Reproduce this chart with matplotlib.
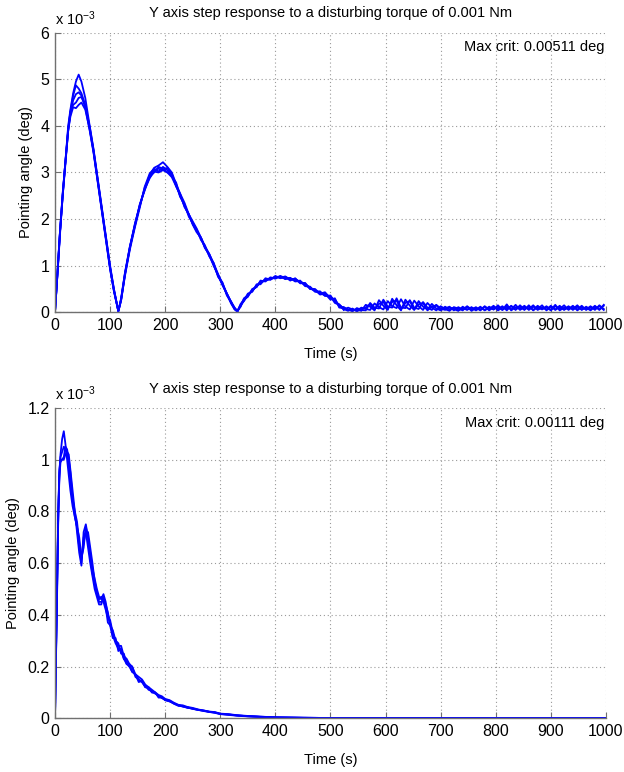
import matplotlib
matplotlib.use("Agg")
import matplotlib.pyplot as plt

plt.rcParams['font.family'] = ['Liberation Sans', 'DejaVu Sans']
plt.rcParams['mathtext.fontset'] = 'custom'
plt.rcParams['mathtext.rm'] = 'Liberation Sans'
plt.rcParams['mathtext.it'] = 'Liberation Sans'

title = "Y axis step response to a disturbing torque of 0.001 Nm"

# ---- top chart: values in units of 1e-3 deg ----
t_top = [0, 5, 9, 14, 18, 24, 28, 33, 38, 43, 48, 55, 63, 70, 76, 82, 88, 94, 100, 107,
         115, 120, 127, 136, 145, 154, 163, 172, 180, 188, 196, 204, 212, 220, 227, 235, 243, 250, 257, 265,
         272, 280, 288, 296, 304, 312, 320, 326, 331, 337, 343, 350, 358, 366, 373, 382, 391, 400, 409, 418,
         427, 436, 445, 454, 463, 472, 481, 490, 500, 508, 516, 524]

top_a = [0, 0.95, 1.7, 2.55, 3.1, 4.0, 4.35, 4.7, 4.95, 5.1,
         4.95, 4.6, 4.0, 3.5, 3.0, 2.5, 2.0, 1.5, 1.0, 0.5,
         0.02, 0.25, 0.8, 1.4, 1.85, 2.3, 2.65, 2.95, 3.1, 3.15,
         3.22, 3.12, 3.0, 2.75, 2.55, 2.35, 2.1, 1.95, 1.8, 1.6,
         1.42, 1.25, 1.05, 0.82, 0.62, 0.4, 0.2, 0.08, 0.01, 0.15,
         0.25, 0.35, 0.47, 0.56, 0.65, 0.69, 0.72, 0.75, 0.77, 0.75,
         0.72, 0.7, 0.66, 0.6, 0.53, 0.46, 0.42, 0.38, 0.33, 0.25,
         0.15, 0.09]
top_b = [0, 0.9, 1.65, 2.5, 3.05, 3.9, 4.3, 4.65, 4.87, 4.8,
         4.7, 4.45, 3.95, 3.45, 2.95, 2.45, 1.95, 1.45, 0.95, 0.47,
         0.03, 0.28, 0.82, 1.38, 1.9, 2.28, 2.68, 2.9, 3.05, 3.08,
         3.05, 3.1, 2.95, 2.72, 2.5, 2.3, 2.08, 1.9, 1.75, 1.58,
         1.4, 1.22, 1.0, 0.8, 0.6, 0.38, 0.18, 0.06, 0.02, 0.18,
         0.27, 0.38, 0.45, 0.58, 0.62, 0.7, 0.7, 0.76, 0.74, 0.77,
         0.7, 0.72, 0.64, 0.62, 0.5, 0.5, 0.4, 0.43, 0.3, 0.28,
         0.12, 0.07]
top_c = [0, 0.92, 1.7, 2.5, 3.1, 3.9, 4.25, 4.55, 4.68, 4.72,
         4.65, 4.4, 3.9, 3.42, 2.92, 2.42, 1.92, 1.42, 0.92, 0.45,
         0.02, 0.3, 0.85, 1.42, 1.88, 2.32, 2.62, 2.92, 3.0, 3.12,
         3.08, 3.0, 2.98, 2.7, 2.52, 2.28, 2.1, 1.88, 1.72, 1.6,
         1.38, 1.24, 1.02, 0.78, 0.6, 0.4, 0.22, 0.1, 0.03, 0.12,
         0.28, 0.33, 0.5, 0.54, 0.68, 0.66, 0.75, 0.72, 0.78, 0.71,
         0.74, 0.66, 0.68, 0.56, 0.55, 0.44, 0.45, 0.35, 0.36, 0.22,
         0.17, 0.06]
top_d = [0, 0.9, 1.7, 2.55, 3.1, 3.95, 4.3, 4.45, 4.5, 4.6,
         4.62, 4.42, 3.98, 3.48, 2.98, 2.48, 1.98, 1.48, 0.98, 0.49,
         0.02, 0.26, 0.78, 1.35, 1.82, 2.25, 2.7, 2.98, 3.08, 3.02,
         3.12, 3.05, 2.92, 2.78, 2.48, 2.32, 2.05, 1.92, 1.78, 1.55,
         1.44, 1.2, 1.06, 0.76, 0.64, 0.36, 0.22, 0.07, 0.02, 0.16,
         0.24, 0.4, 0.44, 0.6, 0.6, 0.73, 0.7, 0.78, 0.73, 0.76,
         0.68, 0.73, 0.62, 0.63, 0.5, 0.48, 0.38, 0.4, 0.27, 0.3,
         0.1, 0.1]
top_e = [0, 0.95, 1.72, 2.5, 3.1, 3.9, 4.2, 4.4, 4.38, 4.45,
         4.5, 4.35, 3.92, 3.45, 2.95, 2.45, 1.95, 1.45, 0.95, 0.46,
         0.03, 0.27, 0.83, 1.4, 1.86, 2.3, 2.64, 2.88, 3.02, 3.0,
         3.05, 3.0, 2.9, 2.7, 2.55, 2.26, 2.1, 1.9, 1.76, 1.6,
         1.4, 1.25, 1.02, 0.8, 0.58, 0.4, 0.2, 0.09, 0.02, 0.14,
         0.3, 0.36, 0.48, 0.55, 0.66, 0.68, 0.73, 0.74, 0.76, 0.72,
         0.73, 0.67, 0.66, 0.58, 0.53, 0.45, 0.42, 0.36, 0.34, 0.2,
         0.16, 0.08]

t_tail = [524, 532, 540, 548, 556, 564, 572, 580, 588, 596, 604, 612, 620, 628, 636, 644, 652, 660, 668, 676,
          684, 692, 700, 708, 716, 724, 732, 740, 748, 756, 764, 772, 780, 788, 796, 804, 812, 820, 828, 836,
          844, 852, 860, 868, 876, 884, 892, 900, 908, 916, 924, 932, 940, 948, 956, 964, 972, 980, 988, 996]
tail_a = [0.09, 0.05, 0.04, 0.06, 0.03, 0.16, 0.12, 0.04, 0.26, 0.14,
          0.05, 0.29, 0.15, 0.04, 0.27, 0.14, 0.05, 0.24, 0.12, 0.06,
          0.18, 0.08, 0.04, 0.12, 0.06, 0.10, 0.04, 0.09, 0.05, 0.11,
          0.04, 0.10, 0.05, 0.12, 0.06, 0.15, 0.05, 0.12, 0.06, 0.16,
          0.05, 0.11, 0.07, 0.15, 0.05, 0.10, 0.06, 0.14, 0.05, 0.11,
          0.06, 0.13, 0.05, 0.12, 0.06, 0.10, 0.04, 0.12, 0.06, 0.14]
tail_b = [0.07, 0.03, 0.08, 0.02, 0.07, 0.10, 0.17, 0.06, 0.18, 0.22,
          0.08, 0.22, 0.25, 0.07, 0.20, 0.24, 0.06, 0.17, 0.20, 0.04,
          0.12, 0.15, 0.05, 0.08, 0.12, 0.04, 0.11, 0.06, 0.12, 0.03,
          0.09, 0.05, 0.13, 0.04, 0.11, 0.07, 0.13, 0.04, 0.14, 0.06,
          0.12, 0.05, 0.15, 0.04, 0.11, 0.06, 0.13, 0.05, 0.16, 0.04,
          0.10, 0.07, 0.14, 0.04, 0.11, 0.06, 0.13, 0.05, 0.15, 0.07]
tail_c = [0.11, 0.06, 0.02, 0.09, 0.05, 0.04, 0.20, 0.10, 0.08, 0.27,
          0.12, 0.10, 0.30, 0.10, 0.09, 0.26, 0.10, 0.07, 0.22, 0.10,
          0.05, 0.16, 0.08, 0.05, 0.10, 0.07, 0.03, 0.12, 0.06, 0.10,
          0.05, 0.12, 0.04, 0.10, 0.06, 0.12, 0.05, 0.17, 0.04, 0.11,
          0.07, 0.14, 0.05, 0.12, 0.07, 0.15, 0.04, 0.12, 0.06, 0.14,
          0.05, 0.11, 0.07, 0.15, 0.05, 0.12, 0.06, 0.14, 0.05, 0.16]
tail_d = [0.05, 0.10, 0.06, 0.03, 0.10, 0.07, 0.05, 0.19, 0.11, 0.06,
          0.24, 0.13, 0.09, 0.28, 0.12, 0.06, 0.25, 0.13, 0.05, 0.20,
          0.10, 0.04, 0.13, 0.07, 0.03, 0.11, 0.08, 0.04, 0.13, 0.06,
          0.11, 0.04, 0.12, 0.07, 0.14, 0.04, 0.10, 0.08, 0.13, 0.05,
          0.15, 0.06, 0.12, 0.05, 0.14, 0.07, 0.11, 0.04, 0.13, 0.07,
          0.15, 0.05, 0.12, 0.06, 0.14, 0.05, 0.11, 0.07, 0.13, 0.05]

# ---- bottom chart ----
t_bot = [0, 2, 4, 6, 8, 10, 13, 16, 19, 22, 25, 28, 32, 36, 40, 44, 48, 52, 56, 60,
         64, 68, 72, 76, 80, 84, 88, 92, 96, 100, 105, 110, 115, 120, 125, 130, 135, 140, 146, 152,
         158, 164, 170, 176, 182, 188, 194, 200, 208, 216, 224, 232, 240, 250, 260, 270, 280, 290, 300, 315,
         330, 350, 375, 400, 450, 500, 600, 700, 800, 900, 1000]
bot_a = [0, 0.28, 0.55, 0.8, 0.95, 1.02, 1.08, 1.11, 1.06, 1.0,
         0.94, 0.88, 0.82, 0.78, 0.74, 0.7, 0.62, 0.66, 0.74, 0.7,
         0.64, 0.58, 0.54, 0.5, 0.47, 0.46, 0.48, 0.45, 0.4, 0.38,
         0.33, 0.3, 0.28, 0.28, 0.24, 0.23, 0.21, 0.2, 0.17, 0.16,
         0.15, 0.13, 0.12, 0.11, 0.1, 0.09, 0.085, 0.075, 0.07, 0.06,
         0.052, 0.05, 0.044, 0.04, 0.034, 0.03, 0.026, 0.024, 0.018, 0.016,
         0.012, 0.009, 0.006, 0.004, 0.002, 0.001, 0.0008, 0.0004, 0.0002, 0.0001, 0.0001]
bot_b = [0, 0.25, 0.5, 0.78, 0.93, 0.99, 1.0, 1.01, 1.05, 1.04,
         1.0, 0.95, 0.85, 0.8, 0.76, 0.68, 0.6, 0.7, 0.72, 0.66,
         0.6, 0.55, 0.5, 0.47, 0.44, 0.44, 0.47, 0.43, 0.37, 0.36,
         0.31, 0.31, 0.26, 0.27, 0.23, 0.22, 0.2, 0.2, 0.16, 0.15,
         0.14, 0.12, 0.12, 0.1, 0.1, 0.08, 0.08, 0.07, 0.065, 0.058,
         0.05, 0.046, 0.043, 0.036, 0.033, 0.028, 0.024, 0.022, 0.017, 0.014,
         0.011, 0.008, 0.005, 0.003, 0.002, 0.001, 0.0006, 0.0003, 0.0002, 0.0001, 0.0001]
bot_c = [0, 0.27, 0.53, 0.8, 0.96, 1.0, 1.0, 1.0, 1.02, 1.03,
         1.02, 0.96, 0.88, 0.8, 0.72, 0.64, 0.59, 0.72, 0.75, 0.7,
         0.62, 0.56, 0.52, 0.48, 0.46, 0.47, 0.45, 0.42, 0.39, 0.37,
         0.32, 0.29, 0.27, 0.26, 0.23, 0.21, 0.2, 0.18, 0.17, 0.15,
         0.14, 0.125, 0.11, 0.105, 0.095, 0.088, 0.078, 0.072, 0.066, 0.056,
         0.048, 0.047, 0.04, 0.038, 0.032, 0.029, 0.025, 0.021, 0.016, 0.013,
         0.01, 0.007, 0.005, 0.003, 0.0015, 0.001, 0.0005, 0.0003, 0.0002, 0.0001, 0.0001]
bot_d = [0, 0.26, 0.52, 0.79, 0.94, 1.01, 1.03, 1.05, 1.04, 1.02,
         0.98, 0.92, 0.84, 0.78, 0.74, 0.66, 0.62, 0.68, 0.72, 0.72,
         0.66, 0.6, 0.53, 0.49, 0.45, 0.45, 0.46, 0.44, 0.41, 0.36,
         0.34, 0.3, 0.29, 0.25, 0.25, 0.21, 0.21, 0.18, 0.17, 0.14,
         0.145, 0.12, 0.118, 0.1, 0.098, 0.085, 0.082, 0.07, 0.068, 0.057,
         0.05, 0.045, 0.042, 0.037, 0.032, 0.03, 0.025, 0.023, 0.017, 0.015,
         0.011, 0.008, 0.006, 0.003, 0.002, 0.001, 0.0006, 0.0004, 0.0002, 0.0001, 0.0001]

x_ticks = [0, 100, 200, 300, 400, 500, 600, 700, 800, 900, 1000]
top_yticks = [0, 1, 2, 3, 4, 5, 6]
bot_yticks = [0, 0.2, 0.4, 0.6, 0.8, 1.0, 1.2]

blue = (0, 0, 1)
lw = 1.3
fig = plt.figure(figsize=(6.24, 7.72), dpi=100)
ax1 = fig.add_axes([0.0881, 0.5955, 0.883, 0.3622])
ax2 = fig.add_axes([0.0881, 0.0696, 0.883, 0.402])


def style(ax, yticks, ylabels, crit):
    ax.set_xlim(0, 1000)
    ax.set_ylim(yticks[0], yticks[-1])
    ax.set_xticks(x_ticks)
    ax.set_yticks(yticks)
    ax.set_yticklabels(ylabels)
    ax.tick_params(direction='in', length=4, width=0.8, color='#707070', labelsize=11.5, pad=4)
    ax.grid(True, color='#9a9a9a', linestyle=(0, (1, 2.5)), linewidth=0.8)
    for s in ['top', 'right']:
        ax.spines[s].set_visible(False)
    for s in ['left', 'bottom']:
        ax.spines[s].set_color('#707070')
        ax.spines[s].set_linewidth(1.0)
    ax.set_xlabel("Time (s)", fontsize=10.5, labelpad=10)
    ax.set_ylabel("Pointing angle (deg)", fontsize=10.5, labelpad=5)
    ax.set_title(title, fontsize=10.5, pad=11)
    ax.text(0.997, 0.975, crit, transform=ax.transAxes, ha='right', va='top', fontsize=10.5)
    ax.text(0.0, 1.015, r'x 10$^{-3}$', transform=ax.transAxes, ha='left', va='bottom', fontsize=10.5)


for run in [top_a, top_b, top_c, top_d, top_e]:
    ax1.plot(t_top, run, color=blue, linewidth=lw)
for run in [tail_a, tail_b, tail_c, tail_d]:
    ax1.plot(t_tail, run, color=blue, linewidth=lw)
style(ax1, top_yticks, ['0', '1', '2', '3', '4', '5', '6'], "Max crit: 0.00511 deg")

for run in [bot_a, bot_b, bot_c, bot_d]:
    ax2.plot(t_bot, run, color=blue, linewidth=lw)
style(ax2, bot_yticks, ['0', '0.2', '0.4', '0.6', '0.8', '1', '1.2'], "Max crit: 0.00111 deg")

fig.savefig("out.png", dpi=100)
